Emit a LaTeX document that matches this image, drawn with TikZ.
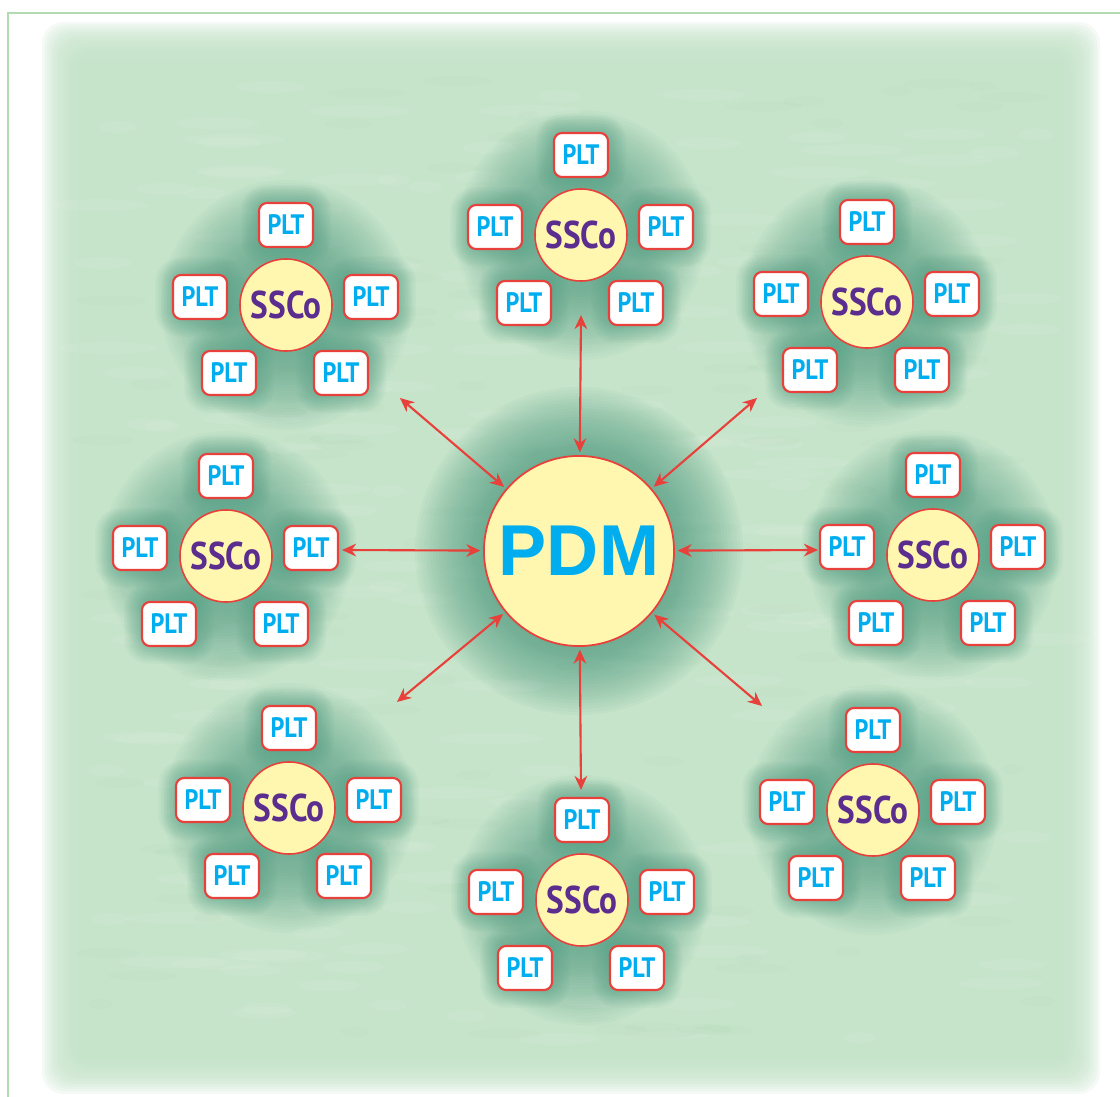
\documentclass[tikz,border=0pt]{standalone}
\usepackage{fontspec}
\setmainfont{PT Sans}
\newfontfamily\pltfont[FakeStretch=0.86]{PT Sans}
\newfontfamily\sscofont[FakeStretch=0.86]{PT Sans}
\newfontfamily\pdmfont{Liberation Sans}
\usetikzlibrary{arrows.meta}
\definecolor{bggreen}{HTML}{C6E4CA}
\definecolor{bgdark}{HTML}{A9D2B2}
\definecolor{halo}{HTML}{4A9A80}
\definecolor{framegreen}{HTML}{B2DBB2}
\definecolor{rline}{HTML}{E8403A}
\definecolor{yfill}{HTML}{FFF6B0}
\definecolor{cyantext}{HTML}{00AEEF}
\definecolor{purptext}{HTML}{5A2D8E}
\pgfdeclarelayer{back}
\pgfdeclarelayer{bg}
\pgfsetlayers{back,bg,main}
\tikzset{
 plt/.style={draw=rline, line width=0.6pt, fill=white, rounded corners=2.3pt,
   minimum width=0.54cm, minimum height=0.44cm, inner sep=0pt, text=cyantext,
   font=\pltfont\bfseries\fontsize{8}{9}\selectfont},
 ssco/.style={circle, draw=rline, line width=0.45pt, fill=yfill, minimum size=0.92cm,
   inner sep=0pt, text=purptext, font=\sscofont\bfseries\fontsize{11}{12}\selectfont},
 pdmnode/.style={circle, draw=rline, line width=0.5pt, fill=yfill, minimum size=1.9cm,
   inner sep=0pt, outer sep=1pt, text=cyantext, font=\pdmfont\bfseries\fontsize{20.5}{22}\selectfont},
 link/.style={draw=rline, line width=0.6pt, {Stealth[length=4pt,width=3.6pt]}-{Stealth[length=4pt,width=3.6pt]}},
 glowlayer/.style={fill=halo, fill opacity=#1},
}
\newcommand\boxglow[1]{%
  \foreach \k in {1,...,12}{
    \fill[glowlayer=0.04, rounded corners={2.3pt+0.4pt*\k}]
      ([shift={(-27-1.5*\k,-22-1.5*\k)}]#1.center) rectangle ([shift={(27+1.5*\k,22+1.5*\k)}]#1.center);
  }%
}
\newcommand\mycluster[3]{%
  \node[ssco] (#1) at (#2,#3) {SSCo};
  \node[plt] (#1-t)  at ([shift={(0,-80)}]#1.center) {PLT};
  \node[plt] (#1-l)  at ([shift={(-86,-8)}]#1.center) {PLT};
  \node[plt] (#1-r)  at ([shift={(85,-8)}]#1.center) {PLT};
  \node[plt] (#1-bl) at ([shift={(-57,68)}]#1.center) {PLT};
  \node[plt] (#1-br) at ([shift={(55,68)}]#1.center) {PLT};
  \begin{pgfonlayer}{bg}
    \foreach \k in {0,...,25}{\fill[glowlayer=0.036] (#1.center) circle ({0.5cm+0.03cm*\k});}
    \boxglow{#1-t}\boxglow{#1-l}\boxglow{#1-r}\boxglow{#1-bl}\boxglow{#1-br}
  \end{pgfonlayer}
}
\begin{document}
\begin{tikzpicture}[x=0.01cm, y=-0.01cm]
\useasboundingbox (0,0) rectangle (1120,1097);
\begin{pgfonlayer}{back}
\fill[white] (0,0) rectangle (1120,1097);
% faded background field
\foreach \i in {0,...,13}{
  \fill[bggreen, fill opacity=0.16, rounded corners=6pt] (42+2.5*\i,22+2.5*\i) rectangle (1100-2.5*\i,1094-2.5*\i);
}
\fill[bggreen] (78,58) rectangle (1064,1060);
% grass-like texture
\pgfmathsetseed{7}
\foreach \n in {1,...,220}{
  \pgfmathsetmacro{\tx}{100+rnd*940}
  \pgfmathsetmacro{\ty}{80+rnd*960}
  \pgfmathsetmacro{\tw}{15+rnd*40}
  \fill[white, fill opacity=0.07] (\tx,\ty) ellipse ({\tw*0.01cm} and 0.06cm);
}
\foreach \n in {1,...,160}{
  \pgfmathsetmacro{\tx}{100+rnd*940}
  \pgfmathsetmacro{\ty}{80+rnd*960}
  \pgfmathsetmacro{\tw}{10+rnd*30}
  \fill[bgdark, fill opacity=0.1] (\tx,\ty) ellipse ({\tw*0.01cm} and 0.05cm);
}
% frame lines
\draw[framegreen, line width=0.5pt] (8,1097) -- (8,13) -- (1120,13);
\end{pgfonlayer}

% central node
\node[pdmnode] (pdm) at (579,551) {PDM};
\begin{pgfonlayer}{bg}
  \foreach \k in {0,...,23}{\fill[glowlayer=0.045] (pdm.center) circle ({0.95cm+0.03cm*\k});}
\end{pgfonlayer}

% clusters
\mycluster{cT}{581}{235}
\mycluster{cTL}{286}{305}
\mycluster{cTR}{867}{302}
\mycluster{cL}{226}{556}
\mycluster{cR}{933}{555}
\mycluster{cBL}{289}{808}
\mycluster{cB}{582}{900}
\mycluster{cBR}{873}{810}

% free ends of the connectors
\coordinate (aT)  at (581,315);
\coordinate (aTL) at (400,398);
\coordinate (aTR) at (757,398);
\coordinate (aL)  at (342,550);
\coordinate (aR)  at (818,550);
\coordinate (aBL) at (397,702);
\coordinate (aBR) at (762,706);
\coordinate (aB)  at (581,790);

\foreach \a in {aT,aTL,aTR,aL,aR,aBL,aBR,aB}{
  \draw[link] (\a) -- (pdm);
}
\end{tikzpicture}
\end{document}
